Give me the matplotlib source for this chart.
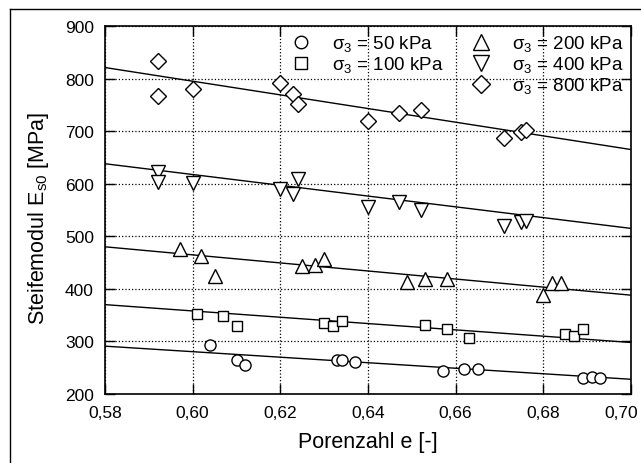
import matplotlib
matplotlib.use("Agg")
import matplotlib.pyplot as plt
from matplotlib.ticker import FuncFormatter
from matplotlib.lines import Line2D
from matplotlib.transforms import ScaledTranslation

plt.rcParams['font.family'] = ['Liberation Sans', 'DejaVu Sans']
plt.rcParams['mathtext.fontset'] = 'custom'
plt.rcParams['mathtext.rm'] = 'Liberation Sans'
plt.rcParams['mathtext.it'] = 'Liberation Sans'

# Messwerte, je Seitendruck sigma_3
e_50 = [0.604, 0.610, 0.612, 0.633, 0.634, 0.637, 0.657, 0.662, 0.665, 0.689, 0.691, 0.693]
E_50 = [294, 265, 256, 264, 264, 260, 244, 247, 247, 230, 233, 230]

e_100 = [0.601, 0.607, 0.610, 0.630, 0.632, 0.634, 0.653, 0.658, 0.663, 0.685, 0.687, 0.689]
E_100 = [352, 349, 329, 336, 330, 338, 331, 324, 306, 314, 311, 324]

e_200 = [0.597, 0.602, 0.605, 0.625, 0.628, 0.630, 0.649, 0.653, 0.658, 0.680, 0.682, 0.684]
E_200 = [475, 463, 425, 444, 446, 457, 413, 419, 418, 388, 411, 411]

e_400 = [0.592, 0.592, 0.600, 0.620, 0.623, 0.624, 0.640, 0.647, 0.652, 0.671, 0.675, 0.676]
E_400 = [623, 604, 601, 590, 580, 609, 555, 565, 550, 520, 528, 529]

e_800 = [0.592, 0.592, 0.600, 0.620, 0.623, 0.624, 0.640, 0.647, 0.652, 0.671, 0.675, 0.676]
E_800 = [833, 766, 780, 791, 771, 752, 719, 735, 741, 687, 698, 702]

# Ausgleichsgeraden: Werte bei e = 0,58 und e = 0,70
fit_e = [0.58, 0.70]
fit_50 = [291, 228]
fit_100 = [370, 298]
fit_200 = [480, 388]
fit_400 = [638, 515]
fit_800 = [821, 665]

labels = ['$\\sigma_3$ = 50 kPa', '$\\sigma_3$ = 100 kPa', '$\\sigma_3$ = 200 kPa',
          '$\\sigma_3$ = 400 kPa', '$\\sigma_3$ = 800 kPa']
markers = ['o', 's', '^', 'v', 'D']
sizes = [8, 7.5, 10, 10, 8.5]

fig = plt.figure(figsize=(6.41, 4.64), dpi=100)
ax = fig.add_axes([105 / 641, 1 - 395 / 464, 526 / 641, 368 / 464])

data = [(e_50, E_50, fit_50), (e_100, E_100, fit_100), (e_200, E_200, fit_200),
        (e_400, E_400, fit_400), (e_800, E_800, fit_800)]
handles = []
for (x, y, f), m, s, lab in zip(data, markers, sizes, labels):
    ax.plot(fit_e, f, color='black', lw=1.0, zorder=2)
    ax.plot(x, y, linestyle='none', marker=m, markersize=s, markerfacecolor='white',
            markeredgecolor='black', markeredgewidth=1.0, zorder=3)
    handles.append(Line2D([], [], linestyle='none', marker=m, markersize=s + 1,
                          markerfacecolor='white', markeredgecolor='black',
                          markeredgewidth=1.0, label=lab))

blank = Line2D([], [], linestyle='none', label=' ')
leg_handles = [handles[0], handles[1], blank, handles[2], handles[3], handles[4]]
ax.legend(handles=leg_handles, ncol=2, loc='upper right', frameon=False,
          fontsize=13.5, handlelength=1.4, handletextpad=0.95, columnspacing=1.3,
          labelspacing=0.05, borderaxespad=0.0, bbox_to_anchor=(1.0, 1.0))

ax.set_xlim(0.58, 0.70)
ax.set_ylim(200, 900)
ax.set_xticks([0.58, 0.60, 0.62, 0.64, 0.66, 0.68, 0.70])
ax.set_yticks(range(200, 901, 100))
ax.xaxis.set_major_formatter(FuncFormatter(lambda v, p: f'{v:.2f}'.replace('.', ',')))
ax.grid(True, color='black', linestyle=':', linewidth=0.9)
ax.tick_params(direction='in', length=7, width=1, top=True, right=True,
               labelsize=12.5, pad=8)
for sp in ax.spines.values():
    sp.set_linewidth(1.2)

# letzte Beschriftung etwas nach links, damit sie ins Bild passt
last = ax.get_xticklabels()[-1]
last.set_transform(last.get_transform() + ScaledTranslation(-0.1, 0, fig.dpi_scale_trans))

ax.set_xlabel('Porenzahl e [-]', fontsize=15.5, labelpad=8)
ax.set_ylabel('Steifemodul E$_{\\mathrm{s0}}$ [MPa]', fontsize=15.5)
ax.yaxis.set_label_coords(-0.102, 0.48)

# Rahmen um die Abbildung (links und oben)
fig.add_artist(Line2D([10 / 641, 10 / 641], [0, 1 - 10 / 464], color='black', lw=1.0,
                      transform=fig.transFigure))
fig.add_artist(Line2D([10 / 641, 1], [1 - 10 / 464, 1 - 10 / 464], color='black', lw=1.0,
                      transform=fig.transFigure))

fig.savefig('out.png', dpi=100)
